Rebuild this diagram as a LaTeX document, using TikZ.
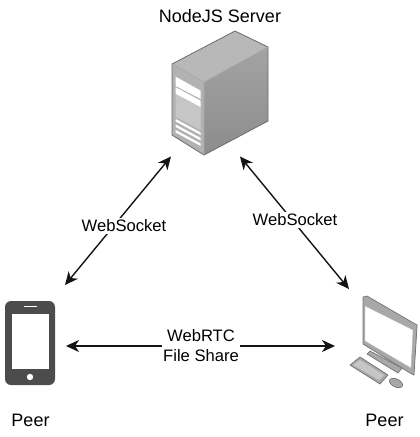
\documentclass[tikz,border=0pt]{standalone}
\usepackage{fontspec}
\setmainfont{Liberation Sans}
\usetikzlibrary{arrows.meta}
\definecolor{srvtop}{gray}{0.72}
\definecolor{srvside}{gray}{0.55}
\definecolor{srvfront}{gray}{0.70}
\definecolor{edgegray}{gray}{0.42}
\definecolor{phonegray}{gray}{0.30}
\definecolor{mongray}{gray}{0.66}
\tikzset{
  x=1pt,y=-1pt,
  arr/.style={{Stealth[length=13pt,width=12pt,inset=4pt]}-{Stealth[length=13pt,width=12pt,inset=4pt]},line width=1.4pt,color=black!92},
  lbl/.style={fill=white,inner sep=1.5pt,font=\fontsize{16.6}{20}\selectfont,align=center,text=black},
  plain/.style={font=\fontsize{18}{20}\selectfont,inner sep=0pt,text=black},
  box/.style={inner sep=0pt,outer sep=0pt,draw=none},
  srvedge/.style={draw=edgegray,line width=0.8pt,line join=round},
  whitebar/.style={fill=white,draw=none},
  mon/.style={fill=mongray,draw=gray!90!black,line width=0.7pt,line join=round}
}
\begin{document}
\begin{tikzpicture}
\useasboundingbox (0,0) rectangle (420,437);
% bounding nodes of the three icons
\node[box,minimum width=96pt,minimum height=125pt] (server) at (220,93) {};
\node[box,minimum width=50pt,minimum height=84pt] (phone) at (30,343) {};
\node[box,minimum width=68pt,minimum height=92pt] (monitor) at (384,343) {};
% server
\shade[top color=srvside!80!white,bottom color=srvside,draw=none] (204,82) -- (268,47) -- (268,121) -- (204,155) -- cycle;
\fill[srvtop] (172,64) -- (235,31) -- (268,47) -- (204,82) -- cycle;
\fill[srvfront] (172,64) -- (204,82) -- (204,155) -- (172,135) -- cycle;
\draw[srvedge] (172,64) -- (235,31) -- (268,47) -- (268,121) -- (204,155) -- (172,135) -- cycle;
\draw[edgegray!60!white,line width=0.6pt] (172,64) -- (204,82) -- (268,47) (204,82) -- (204,155);
\fill[whitebar] (175.7,76.7) -- (200.7,90.7) -- (200.7,99) -- (175.7,86) -- cycle;
\fill[whitebar] (175.7,87.3) -- (200.7,100.7) -- (200.7,107.3) -- (175.7,94) -- cycle;
\fill[gray!45] (175.7,94) -- (200.7,107.3) -- (200.7,130) -- (175.7,117) -- cycle;
\fill[whitebar] (175.7,119) -- (200.7,132.5) -- (200.7,135) -- (175.7,121.5) -- cycle;
\fill[whitebar] (175.7,124.5) -- (200.7,138) -- (200.7,140.5) -- (175.7,127) -- cycle;
\fill[whitebar] (175.7,130) -- (200.7,143.5) -- (200.7,146) -- (175.7,132.5) -- cycle;
% phone
\fill[phonegray,rounded corners=6pt] (5,301) rectangle (55,385);
\fill[white] (12,314) rectangle (49,369);
\fill[white] (30,377) circle (3.2);
\draw[white,line width=0.8pt] (24,306.5) -- (37,306.5);
% monitor
\fill[gray!70] (363,297) -- (417,327) -- (414,375) -- (363,342) -- cycle;
\draw[mon] (363,297) -- (367,296) -- (417,325) -- (417,327) -- (414,375) -- (410,373) -- (363,344) -- cycle;
\fill[white,draw=gray!55,line width=0.4pt] (365,306) -- (413,330) -- (411,368) -- (365,341) -- cycle;
\draw[mon] (367,354) -- (370,351) -- (402,368) -- (398,373) -- cycle;
\draw[mon] (350,365) -- (360,357) -- (388,375) -- (380,384) -- cycle;
\fill[gray!45] (353,365) -- (360,360) -- (384,375) -- (379,380) -- cycle;
\draw[mon,rotate around={-25:(396,383)}] (396,383) ellipse (7 and 4);
% labels
\node[plain] (title) at (220,16) {NodeJS Server};
\node[plain] (peerl) at (30.5,420) {Peer};
\node[plain] (peerr) at (384.5,420) {Peer};
% connectors
\draw[arr] ([xshift=10pt,yshift=16pt]phone.north east) -- ([xshift=-1pt,yshift=-1pt]server.south west);
\draw[arr] ([xshift=-28pt,yshift=-1pt]server.south east) -- ([xshift=-1pt,yshift=8pt]monitor.north west);
\draw[arr] ([xshift=11pt,yshift=-3pt]phone.east) -- ([xshift=-15pt,yshift=-3pt]monitor.west);
\node[lbl] (ws1) at (124,226) {WebSocket};
\node[lbl] (ws2) at (295,220) {WebSocket};
\node[lbl] (rtc) at (201,346) {WebRTC\\File Share};
\end{tikzpicture}
\end{document}
